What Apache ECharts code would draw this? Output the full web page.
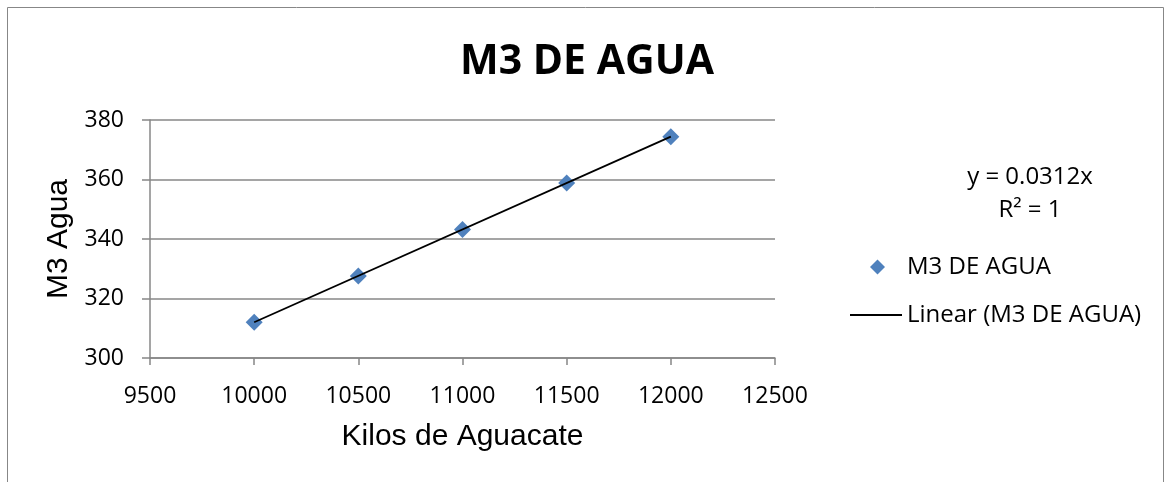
<!DOCTYPE html>
<html>
<head>
<meta charset="utf-8">
<script src="https://cdn.jsdelivr.net/npm/echarts@6/dist/echarts.min.js"></script>
<style>
  html, body { margin: 0; padding: 0; background: #fff; }
  #chart { width: 1165px; height: 482px; }
</style>
</head>
<body>
<div id="chart"></div>
<script>
// datos
const kilos = [10000, 10500, 11000, 11500, 12000]
const aguaM3 = [312, 327.6, 343.2, 358.8, 374.4]
const xTicks = [9500, 12500, 500]
const yTicks = [300, 380, 20]

// linea de tendencia (regresion por el origen, como Excel con intercepto 0)
let sxy = 0, sxx = 0
kilos.forEach((x, i) => { sxy += x * aguaM3[i]; sxx += x * x })
const slope = sxy / sxx
const xMin = Math.min(...kilos), xMax = Math.max(...kilos)
const trend = [[xMin, slope * xMin], [xMax, slope * xMax]]

const gray = '#878787'
const font = 'Open Sans'

let chart = echarts.init(document.getElementById('chart'))
let option = {
  backgroundColor: '#fff',
  animation: false,
  title: {
    text: 'M3 DE AGUA',
    left: 582,
    textAlign: 'center',
    top: 37,
    textStyle: { fontFamily: font, fontWeight: 'bold', fontSize: 41, color: '#000' }
  },
  grid: { left: 150, top: 120, right: 390, bottom: 124 },
  legend: [
    {
      data: ['M3 DE AGUA'],
      left: 865, top: 250,
      itemWidth: 15, itemHeight: 15,
      textStyle: { fontFamily: font, fontSize: 24, color: '#000', padding: [0, 0, 0, 17] }
    },
    {
      data: [{ name: 'Linear (M3 DE AGUA)', icon: 'rect' }],
      left: 845, top: 298,
      itemWidth: 52, itemHeight: 2,
      itemStyle: { color: '#000' },
      textStyle: { fontFamily: font, fontSize: 24, color: '#000' }
    }
  ],
  xAxis: {
    type: 'value',
    min: xTicks[0], max: xTicks[1], interval: xTicks[2],
    name: 'Kilos de Aguacate',
    nameLocation: 'middle',
    nameGap: 64,
    nameTextStyle: { fontFamily: 'Liberation Sans', fontSize: 30, color: '#000' },
    axisLine: { show: true, lineStyle: { color: gray, width: 1.5 } },
    axisTick: { show: true, length: 7, lineStyle: { color: gray, width: 1.5 } },
    axisLabel: { fontFamily: font, fontSize: 23, color: '#000', margin: 27, formatter: v => String(v) },
    splitLine: { show: false }
  },
  yAxis: {
    type: 'value',
    min: yTicks[0], max: yTicks[1], interval: yTicks[2],
    name: 'M3 Agua',
    nameLocation: 'middle',
    nameGap: 76,
    nameTextStyle: { fontFamily: 'Liberation Sans', fontSize: 30, color: '#000' },
    axisLine: { show: true, lineStyle: { color: gray, width: 1.5 } },
    axisTick: { show: true, length: 8, lineStyle: { color: gray, width: 1.5 } },
    axisLabel: { fontFamily: font, fontSize: 23, color: '#000', margin: 26 },
    splitLine: { show: true, lineStyle: { color: gray, width: 1.5 } }
  },
  series: [
    {
      name: 'M3 DE AGUA',
      type: 'scatter',
      symbol: 'diamond',
      symbolSize: 17,
      itemStyle: { color: '#4F81BD', opacity: 1 },
      data: kilos.map((x, i) => [x, aguaM3[i]])
    },
    {
      name: 'Linear (M3 DE AGUA)',
      type: 'line',
      symbol: 'none',
      lineStyle: { color: '#000', width: 1.8 },
      itemStyle: { color: '#000' },
      data: trend
    }
  ],
  graphic: [
    {
      type: 'rect',
      shape: { x: 7.5, y: 7.5, width: 1156, height: 500 },
      style: { fill: 'none', stroke: gray, lineWidth: 1 },
      silent: true
    },
    {
      type: 'text',
      x: 1030, y: 177,
      style: {
        text: 'y = ' + slope.toFixed(4) + 'x',
        fontFamily: font, fontSize: 24, fill: '#000',
        align: 'center', verticalAlign: 'middle'
      }
    },
    {
      type: 'text',
      x: 1030, y: 210,
      style: {
        text: 'R² = 1',
        fontFamily: font, fontSize: 24, fill: '#000',
        align: 'center', verticalAlign: 'middle'
      }
    }
  ]
}
chart.setOption(option)
</script>
</body>
</html>
